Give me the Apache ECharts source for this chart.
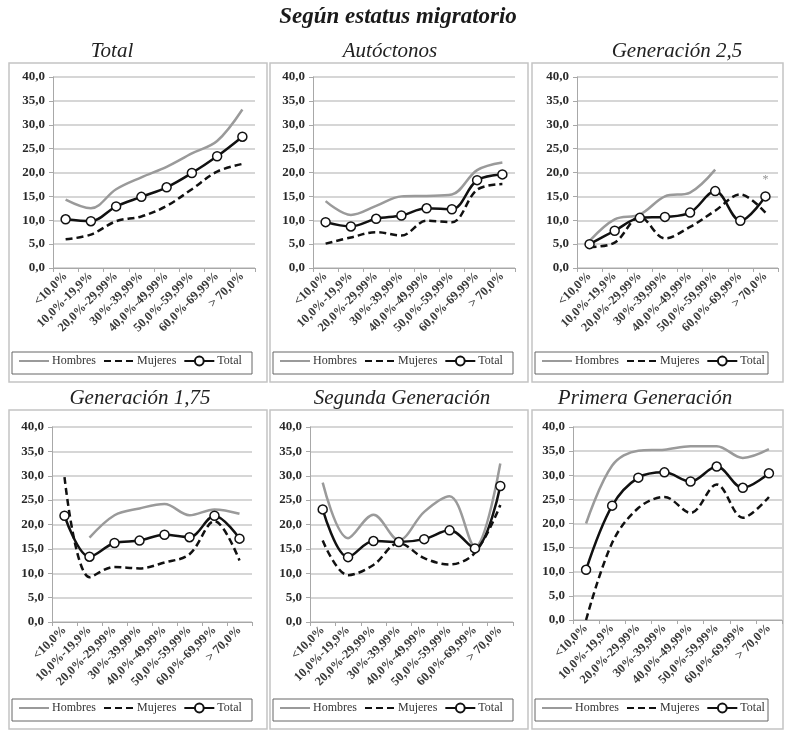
<!DOCTYPE html>
<html>
<head>
<meta charset="utf-8">
<script src="https://cdn.jsdelivr.net/npm/echarts@6/dist/echarts.min.js"></script>
<style>
  html, body { margin: 0; padding: 0; background: #fff; }
  #chart { width: 785px; height: 731px; }
</style>
</head>
<body>
<div id="chart"></div>
<script>
// categories and series
const categories = ['<10,0%', '10,0%-19,9%', '20,0%-29,99%', '30%-39,99%', '40,0%-49,99%', '50,0%-59,99%', '60,0%-69,99%', '> 70,0%'];
const legendNames = ['Hombres', 'Mujeres', 'Total'];

const totalH = [14.3, 12.5, 16.5, 19.0, 21.2, 24.0, 26.6, 33.2];
const totalM = [6.0, 7.0, 9.8, 10.8, 13.0, 16.5, 20.2, 21.8];
const totalT = [10.2, 9.8, 12.9, 14.9, 16.9, 19.9, 23.4, 27.5];

const autoctonosH = [14.0, 11.1, 13.0, 15.0, 15.1, 15.4, 20.5, 22.1];
const autoctonosM = [5.1, 6.4, 7.5, 6.8, 9.9, 9.6, 16.4, 17.6];
const autoctonosT = [9.6, 8.7, 10.3, 11.0, 12.5, 12.3, 18.4, 19.6];

const gen25H = [5.7, 10.2, 11.2, 15.0, 15.8, 20.6, null, null];
const gen25M = [4.4, 5.3, 10.7, 6.2, 8.6, 12.0, 15.4, 11.6];
const gen25T = [5.0, 7.8, 10.5, 10.7, 11.6, 16.1, 9.9, 15.0];
const gen25Note = [[7, 18.5]];

const gen175H = [null, 17.3, 21.9, 23.3, 24.2, 21.9, 23.1, 22.2];
const gen175M = [29.7, 9.2, 11.3, 11.0, 12.2, 13.9, 20.7, 12.6];
const gen175T = [21.8, 13.4, 16.2, 16.7, 17.9, 17.4, 21.8, 17.1];

const segundaH = [28.6, 17.2, 22.0, 16.8, 22.6, 25.8, 15.4, 32.5];
const segundaM = [16.7, 9.6, 11.7, 16.2, 13.1, 11.8, 14.2, 24.0];
const segundaT = [23.1, 13.3, 16.6, 16.4, 17.0, 18.8, 15.1, 27.9];

const primeraH = [20.0, 32.0, 35.1, 35.3, 36.0, 36.0, 33.6, 35.4];
const primeraM = [0.0, 16.0, 23.2, 25.5, 22.2, 28.1, 21.2, 25.5];
const primeraT = [10.4, 23.7, 29.5, 30.6, 28.7, 31.8, 27.4, 30.4];

// layout of the six panels
const panels = [
  { title: 'Total', tx: 112, ty: 51, box: [9, 63, 258, 319], grid: [53, 77, 202, 191], data: [totalH, totalM, totalT] },
  { title: 'Autóctonos', tx: 390, ty: 51, box: [270, 63, 258, 319], grid: [313, 77, 202, 191], data: [autoctonosH, autoctonosM, autoctonosT] },
  { title: 'Generación 2,5', tx: 677, ty: 51, box: [532, 63, 251, 319], grid: [577, 77, 201, 191], data: [gen25H, gen25M, gen25T] },
  { title: 'Generación 1,75', tx: 140, ty: 398, box: [9, 410, 258, 319], grid: [52, 427, 200, 195], data: [gen175H, gen175M, gen175T] },
  { title: 'Segunda Generación', tx: 402, ty: 398, box: [270, 410, 258, 319], grid: [310, 427, 203, 195], data: [segundaH, segundaM, segundaT] },
  { title: 'Primera Generación', tx: 645, ty: 398, box: [532, 410, 251, 319], grid: [573, 427, 209, 193], data: [primeraH, primeraM, primeraT] }
];

const serif = '"Liberation Serif", "Times New Roman", serif';
const fmt = v => v.toFixed(1).replace('.', ',');

const myChart = echarts.init(document.getElementById('chart'), null, { renderer: 'canvas' });

const grids = [], xAxes = [], yAxes = [], series = [], legends = [], graphics = [];

graphics.push({
  type: 'text', x: 398, y: 17, silent: true,
  style: { text: 'Según estatus migratorio', font: 'italic bold 23px ' + serif, fill: '#1a1a1a', textAlign: 'center', textVerticalAlign: 'middle' }
});

panels.forEach((p, i) => {
  const [bx, by, bw, bh] = p.box;
  graphics.push({
    type: 'rect', silent: true, z: -10,
    shape: { x: bx, y: by, width: bw, height: bh },
    style: { fill: 'none', stroke: '#c4c4c4', lineWidth: 1.5 }
  });
  // legend frame
  graphics.push({
    type: 'rect', silent: true, z: -10,
    shape: { x: bx + 3, y: by + bh - 30, width: bw - 18, height: 22 },
    style: { fill: 'none', stroke: '#666', lineWidth: 1 }
  });
  graphics.push({
    type: 'text', x: p.tx, y: p.ty, silent: true,
    style: { text: p.title, font: 'italic 21px ' + serif, fill: '#222', textAlign: 'center', textVerticalAlign: 'middle' }
  });

  grids.push({ left: p.grid[0], top: p.grid[1], width: p.grid[2], height: p.grid[3] });

  xAxes.push({
    type: 'category', gridIndex: i, data: categories, boundaryGap: true,
    axisLine: { lineStyle: { color: '#a8a8a8', width: 1 } },
    axisTick: { show: true, length: 4, interval: 0, lineStyle: { color: '#a8a8a8' } },
    axisLabel: { interval: 0, rotate: 45, margin: 6, color: '#3a3a3a', fontFamily: serif, fontWeight: 'bold', fontSize: 12.5 },
    splitLine: { show: false }
  });
  yAxes.push({
    type: 'value', gridIndex: i, min: 0, max: 40, interval: 5,
    axisLine: { show: true, lineStyle: { color: '#a8a8a8', width: 1 } },
    axisTick: { show: true, length: 4, lineStyle: { color: '#a8a8a8' } },
    axisLabel: { formatter: fmt, color: '#2a2a2a', fontFamily: serif, fontWeight: 'bold', fontSize: 13, margin: 8 },
    splitLine: { lineStyle: { color: '#c9c9c9', width: 1.5 } }
  });

  series.push({
    name: 'Hombres', type: 'line', xAxisIndex: i, yAxisIndex: i, data: p.data[0],
    smooth: 0.35, showSymbol: false, symbol: 'none', color: '#9a9a9a',
    lineStyle: { color: '#9a9a9a', width: 2.5 }
  });
  series.push({
    name: 'Mujeres', type: 'line', xAxisIndex: i, yAxisIndex: i, data: p.data[1],
    smooth: 0.35, showSymbol: false, symbol: 'none', color: '#111',
    lineStyle: { color: '#111', width: 2.5, type: [7, 4] }
  });
  series.push({
    name: 'Total', type: 'line', xAxisIndex: i, yAxisIndex: i, data: p.data[2],
    smooth: 0.35, symbol: 'circle', symbolSize: 9, showSymbol: true, color: '#111',
    lineStyle: { color: '#111', width: 2.5 },
    itemStyle: { color: '#fff', borderColor: '#111', borderWidth: 1.5 },
    z: 3
  });

  legends.push({
    data: [
      { name: legendNames[0], itemStyle: { opacity: 0 } },
      { name: legendNames[1], itemStyle: { opacity: 0 } },
      { name: legendNames[2] }
    ],
    left: bx + 9, top: by + bh - 27,
    itemWidth: 30, itemHeight: 11, itemGap: 7, padding: 0,
    textStyle: { fontFamily: serif, fontSize: 12, color: '#333', padding: [0, 0, 0, -2] },
    selectedMode: false
  });
});

// asterisk above the last point of Generación 2,5
series.push({
  name: 'nota', type: 'scatter', xAxisIndex: 2, yAxisIndex: 2, data: gen25Note,
  symbolSize: 1, itemStyle: { color: 'rgba(0,0,0,0)' }, silent: true,
  label: { show: true, formatter: '*', position: 'inside', color: '#777', fontSize: 12, fontFamily: serif }
});

const option = {
  animation: false,
  backgroundColor: '#fff',
  grid: grids,
  xAxis: xAxes,
  yAxis: yAxes,
  legend: legends,
  series: series,
  graphic: graphics
};
myChart.setOption(option);
</script>
</body>
</html>
